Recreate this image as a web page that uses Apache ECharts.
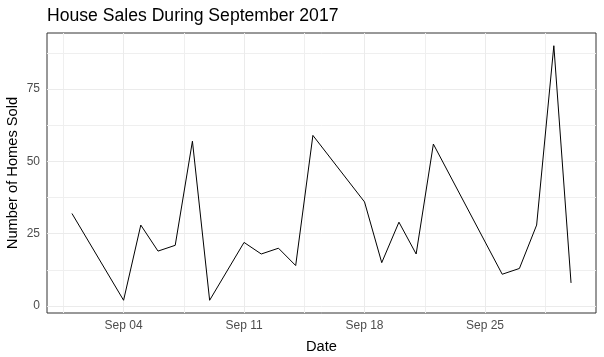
<!DOCTYPE html>
<html>
<head>
<meta charset="utf-8">
<script src="https://cdn.jsdelivr.net/npm/echarts@6/dist/echarts.min.js"></script>
<style>
html,body{margin:0;padding:0;background:#fff;}
#c{width:604px;height:357px;}
</style>
</head>
<body>
<div id="c"></div>
<script>
// Day of month (September 2017) and number of homes sold
var days = [1, 4, 5, 6, 7, 8, 9, 11, 12, 13, 14, 15, 18, 19, 20, 21, 22, 26, 27, 28, 29, 30];
var sold = [32, 2, 28, 19, 21, 57, 2, 22, 18, 20, 14, 59, 36, 15, 29, 18, 56, 11, 13, 28, 90, 8];

// Axis ticks
var xTickDays = [4, 11, 18, 25];
var xTickLabels = ['Sep 04', 'Sep 11', 'Sep 18', 'Sep 25'];
var xMinorDays = [0.5, 7.5, 14.5, 21.5, 28.5];
var yTicks = [0, 25, 50, 75];
var yMinor = [12.5, 37.5, 62.5, 87.5];

var FONT = 'Liberation Sans, Arial, sans-serif';

var points = days.map(function (d, i) { return [d, sold[i]]; });

function vLines(arr) { return arr.map(function (v) { return { xAxis: v }; }); }
function hLines(arr) { return arr.map(function (v) { return { yAxis: v }; }); }

var chart = echarts.init(document.getElementById('c'), null, { renderer: 'canvas' });
chart.setOption({
  animation: false,
  backgroundColor: '#ffffff',
  title: {
    text: 'House Sales During September 2017',
    left: 47,
    top: 7,
    padding: 0,
    textStyle: { fontFamily: FONT, fontSize: 17.6, fontWeight: 'normal', color: '#000000' }
  },
  grid: {
    left: 47, right: 8, top: 33, bottom: 44,
    show: true, borderColor: '#333333', borderWidth: 1, backgroundColor: 'transparent',
    containLabel: false,
    outerBoundsMode: 'none'
  },
  xAxis: {
    type: 'value',
    min: 1 - 0.05 * 29,
    max: 30 + 0.05 * 29,
    name: 'Date',
    nameLocation: 'middle',
    nameGap: 26,
    nameMoveOverlap: false,
    nameTextStyle: { fontFamily: FONT, fontSize: 14.67, color: '#000000' },
    axisLine: { show: false },
    axisTick: { show: true, length: 4, customValues: xTickDays, lineStyle: { color: '#333333', width: 1 } },
    axisLabel: {
      customValues: xTickDays,
      margin: 7,
      fontFamily: FONT, fontSize: 12, color: '#4D4D4D',
      formatter: function (v) {
        var i = xTickDays.indexOf(v);
        return i >= 0 ? xTickLabels[i] : '';
      }
    },
    splitLine: { show: false }
  },
  yAxis: {
    type: 'value',
    min: 2 - 0.05 * 88,
    max: 90 + 0.05 * 88,
    name: 'Number of Homes Sold',
    nameLocation: 'middle',
    nameGap: 27,
    nameMoveOverlap: false,
    nameTextStyle: { fontFamily: FONT, fontSize: 14.67, color: '#000000' },
    axisLine: { show: false },
    axisTick: { show: true, length: 4, customValues: yTicks, lineStyle: { color: '#333333', width: 1 } },
    axisLabel: {
      customValues: yTicks,
      margin: 7,
      fontFamily: FONT, fontSize: 12, color: '#4D4D4D'
    },
    splitLine: { show: false }
  },
  series: [
    {
      type: 'line', data: [], z: 1, silent: true,
      markLine: {
        silent: true, symbol: 'none', animation: false,
        label: { show: false },
        lineStyle: { color: '#EFEFEF', width: 1, type: 'solid' },
        data: vLines(xMinorDays).concat(hLines(yMinor))
      }
    },
    {
      type: 'line', data: [], z: 2, silent: true,
      markLine: {
        silent: true, symbol: 'none', animation: false,
        label: { show: false },
        lineStyle: { color: '#EBEBEB', width: 1, type: 'solid' },
        data: vLines(xTickDays).concat(hLines(yTicks))
      }
    },
    {
      type: 'line',
      data: points,
      z: 5,
      showSymbol: false,
      symbol: 'none',
      lineStyle: { color: '#000000', width: 1 }
    }
  ]
});
</script>
</body>
</html>
